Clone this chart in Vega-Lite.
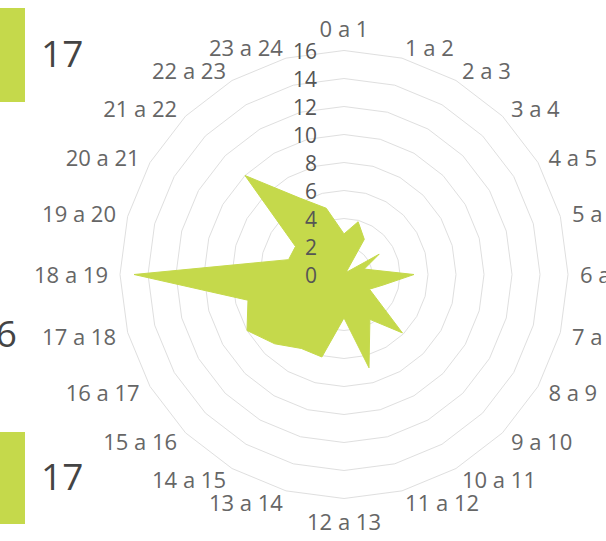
{
  "$schema": "https://vega.github.io/schema/vega-lite/v6.json",
  "width": 606,
  "height": 541,
  "padding": 0,
  "autosize": {"type": "none"},
  "background": "white",
  "config": {"view": {"stroke": null}, "font": "Open Sans"},
  "datasets": {
    "hours": [
      {"h": 0, "hour": "0 a 1", "value": 2.9},
      {"h": 1, "hour": "1 a 2", "value": 3.9},
      {"h": 2, "hour": "2 a 3", "value": 2.9},
      {"h": 3, "hour": "3 a 4", "value": 0.2},
      {"h": 4, "hour": "4 a 5", "value": 2.9},
      {"h": 5, "hour": "5 a 6", "value": 1.5},
      {"h": 6, "hour": "6 a 7", "value": 5.0},
      {"h": 7, "hour": "7 a 8", "value": 2.9},
      {"h": 8, "hour": "8 a 9", "value": 2.1},
      {"h": 9, "hour": "9 a 10", "value": 5.9},
      {"h": 10, "hour": "10 a 11", "value": 3.7},
      {"h": 11, "hour": "11 a 12", "value": 6.9},
      {"h": 12, "hour": "12 a 13", "value": 3.1},
      {"h": 13, "hour": "13 a 14", "value": 6.1},
      {"h": 14, "hour": "14 a 15", "value": 6.1},
      {"h": 15, "hour": "15 a 16", "value": 7.0},
      {"h": 16, "hour": "16 a 17", "value": 8.0},
      {"h": 17, "hour": "17 a 18", "value": 7.1},
      {"h": 18, "hour": "18 a 19", "value": 15.0},
      {"h": 19, "hour": "19 a 20", "value": 4.1},
      {"h": 20, "hour": "20 a 21", "value": 4.0},
      {"h": 21, "hour": "21 a 22", "value": 10.0},
      {"h": 22, "hour": "22 a 23", "value": 6.3},
      {"h": 23, "hour": "23 a 24", "value": 4.9}
    ],
    "rings": [
      {"level": 2, "h": [0,1,2,3,4,5,6,7,8,9,10,11,12,13,14,15,16,17,18,19,20,21,22,23]},
      {"level": 4, "h": [0,1,2,3,4,5,6,7,8,9,10,11,12,13,14,15,16,17,18,19,20,21,22,23]},
      {"level": 6, "h": [0,1,2,3,4,5,6,7,8,9,10,11,12,13,14,15,16,17,18,19,20,21,22,23]},
      {"level": 8, "h": [0,1,2,3,4,5,6,7,8,9,10,11,12,13,14,15,16,17,18,19,20,21,22,23]},
      {"level": 10, "h": [0,1,2,3,4,5,6,7,8,9,10,11,12,13,14,15,16,17,18,19,20,21,22,23]},
      {"level": 12, "h": [0,1,2,3,4,5,6,7,8,9,10,11,12,13,14,15,16,17,18,19,20,21,22,23]},
      {"level": 14, "h": [0,1,2,3,4,5,6,7,8,9,10,11,12,13,14,15,16,17,18,19,20,21,22,23]},
      {"level": 16, "h": [0,1,2,3,4,5,6,7,8,9,10,11,12,13,14,15,16,17,18,19,20,21,22,23]}
    ],
    "ticks": [
      {"level": 0}, {"level": 2}, {"level": 4}, {"level": 6}, {"level": 8},
      {"level": 10}, {"level": 12}, {"level": 14}, {"level": 16}
    ],
    "cards": [
      {"card": "top", "value": 17},
      {"card": "middle", "value": 6},
      {"card": "bottom", "value": 17}
    ]
  },
  "layer": [
    {
      "data": {"name": "rings"},
      "transform": [
        {"flatten": ["h"]},
        {"calculate": "datum.level*sin(datum.h*PI/12)", "as": "x"},
        {"calculate": "datum.level*cos(datum.h*PI/12)", "as": "y"}
      ],
      "mark": {"type": "line", "interpolate": "linear-closed", "stroke": "#dfdfdf", "strokeWidth": 1},
      "encoding": {
        "x": {"field": "x", "type": "quantitative", "scale": {"domain": [-24.5714, 18.7143], "nice": false, "zero": false}, "axis": null},
        "y": {"field": "y", "type": "quantitative", "scale": {"domain": [-19.0357, 19.6071], "nice": false, "zero": false}, "axis": null},
        "detail": {"field": "level", "type": "nominal"},
        "order": {"field": "h", "type": "quantitative"}
      }
    },
    {
      "data": {"name": "hours"},
      "transform": [
        {"calculate": "datum.value*sin(datum.h*PI/12)", "as": "x"},
        {"calculate": "datum.value*cos(datum.h*PI/12)", "as": "y"}
      ],
      "mark": {"type": "line", "interpolate": "linear-closed", "fill": "#c5d94b", "stroke": "#c5d94b", "strokeWidth": 1},
      "encoding": {
        "x": {"field": "x", "type": "quantitative", "scale": {"domain": [-24.5714, 18.7143], "nice": false, "zero": false}, "axis": null},
        "y": {"field": "y", "type": "quantitative", "scale": {"domain": [-19.0357, 19.6071], "nice": false, "zero": false}, "axis": null},
        "order": {"field": "h", "type": "quantitative"}
      }
    },
    {
      "data": {"name": "ticks"},
      "mark": {"type": "text", "align": "right", "baseline": "middle", "dx": -27, "dy": 3, "fontSize": 21, "color": "#555555"},
      "encoding": {
        "x": {"datum": 0, "type": "quantitative", "scale": {"domain": [-24.5714, 18.7143], "nice": false, "zero": false}, "axis": null},
        "y": {"field": "level", "type": "quantitative", "scale": {"domain": [-19.0357, 19.6071], "nice": false, "zero": false}, "axis": null},
        "text": {"field": "level", "type": "quantitative"}
      }
    },
    {
      "data": {"name": "hours"},
      "transform": [
        {"filter": "datum.h > 0 && datum.h < 12"},
        {"calculate": "16.857*sin(datum.h*PI/12)", "as": "x"},
        {"calculate": "16.857*cos(datum.h*PI/12)", "as": "y"}
      ],
      "mark": {"type": "text", "align": "left", "baseline": "middle", "dy": 2, "fontSize": 22, "color": "#666666"},
      "encoding": {
        "x": {"field": "x", "type": "quantitative", "scale": {"domain": [-24.5714, 18.7143], "nice": false, "zero": false}, "axis": null},
        "y": {"field": "y", "type": "quantitative", "scale": {"domain": [-19.0357, 19.6071], "nice": false, "zero": false}, "axis": null},
        "text": {"field": "hour", "type": "nominal"}
      }
    },
    {
      "data": {"name": "hours"},
      "transform": [
        {"filter": "datum.h > 12"},
        {"calculate": "16.857*sin(datum.h*PI/12)", "as": "x"},
        {"calculate": "16.857*cos(datum.h*PI/12)", "as": "y"}
      ],
      "mark": {"type": "text", "align": "right", "baseline": "middle", "dy": 2, "fontSize": 22, "color": "#666666"},
      "encoding": {
        "x": {"field": "x", "type": "quantitative", "scale": {"domain": [-24.5714, 18.7143], "nice": false, "zero": false}, "axis": null},
        "y": {"field": "y", "type": "quantitative", "scale": {"domain": [-19.0357, 19.6071], "nice": false, "zero": false}, "axis": null},
        "text": {"field": "hour", "type": "nominal"}
      }
    },
    {
      "data": {"name": "hours"},
      "transform": [
        {"filter": "datum.h == 0 || datum.h == 12"},
        {"calculate": "17.64*sin(datum.h*PI/12)", "as": "x"},
        {"calculate": "17.64*cos(datum.h*PI/12)", "as": "y"}
      ],
      "mark": {"type": "text", "align": "center", "baseline": "middle", "dy": 2, "fontSize": 22, "color": "#666666"},
      "encoding": {
        "x": {"field": "x", "type": "quantitative", "scale": {"domain": [-24.5714, 18.7143], "nice": false, "zero": false}, "axis": null},
        "y": {"field": "y", "type": "quantitative", "scale": {"domain": [-19.0357, 19.6071], "nice": false, "zero": false}, "axis": null},
        "text": {"field": "hour", "type": "nominal"}
      }
    },
    {
      "data": {"name": "cards"},
      "transform": [{"filter": "datum.card == 'top'"}],
      "mark": {"type": "rect", "fill": "#c5d94b"},
      "encoding": {
        "x": {"datum": -24.5714, "type": "quantitative", "scale": {"domain": [-24.5714, 18.7143], "nice": false, "zero": false}, "axis": null},
        "x2": {"datum": -22.786},
        "y": {"datum": 19.036, "type": "quantitative", "scale": {"domain": [-19.0357, 19.6071], "nice": false, "zero": false}, "axis": null},
        "y2": {"datum": 12.321}
      }
    },
    {
      "data": {"name": "cards"},
      "transform": [{"filter": "datum.card == 'bottom'"}],
      "mark": {"type": "rect", "fill": "#c5d94b"},
      "encoding": {
        "x": {"datum": -24.5714, "type": "quantitative", "scale": {"domain": [-24.5714, 18.7143], "nice": false, "zero": false}, "axis": null},
        "x2": {"datum": -22.786},
        "y": {"datum": -11.25, "type": "quantitative", "scale": {"domain": [-19.0357, 19.6071], "nice": false, "zero": false}, "axis": null},
        "y2": {"datum": -17.821}
      }
    },
    {
      "data": {"name": "cards"},
      "transform": [{"filter": "datum.card == 'top'"}],
      "mark": {"type": "text", "align": "left", "baseline": "middle", "fontSize": 37, "color": "#444444"},
      "encoding": {
        "x": {"datum": -21.643, "type": "quantitative", "scale": {"domain": [-24.5714, 18.7143], "nice": false, "zero": false}, "axis": null},
        "y": {"datum": 15.6, "type": "quantitative", "scale": {"domain": [-19.0357, 19.6071], "nice": false, "zero": false}, "axis": null},
        "text": {"field": "value", "type": "quantitative"}
      }
    },
    {
      "data": {"name": "cards"},
      "transform": [{"filter": "datum.card == 'bottom'"}],
      "mark": {"type": "text", "align": "left", "baseline": "middle", "fontSize": 37, "color": "#444444"},
      "encoding": {
        "x": {"datum": -21.643, "type": "quantitative", "scale": {"domain": [-24.5714, 18.7143], "nice": false, "zero": false}, "axis": null},
        "y": {"datum": -14.6, "type": "quantitative", "scale": {"domain": [-19.0357, 19.6071], "nice": false, "zero": false}, "axis": null},
        "text": {"field": "value", "type": "quantitative"}
      }
    },
    {
      "data": {"name": "cards"},
      "transform": [{"filter": "datum.card == 'middle'"}],
      "mark": {"type": "text", "align": "right", "baseline": "middle", "fontSize": 37, "color": "#444444"},
      "encoding": {
        "x": {"datum": -23.357, "type": "quantitative", "scale": {"domain": [-24.5714, 18.7143], "nice": false, "zero": false}, "axis": null},
        "y": {"datum": -4.393, "type": "quantitative", "scale": {"domain": [-19.0357, 19.6071], "nice": false, "zero": false}, "axis": null},
        "text": {"field": "value", "type": "quantitative"}
      }
    }
  ]
}
